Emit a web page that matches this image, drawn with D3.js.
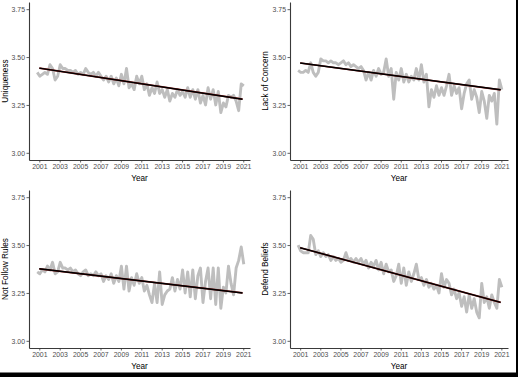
<!DOCTYPE html>
<html><head><meta charset="utf-8">
<script src="https://cdn.jsdelivr.net/npm/d3@7"></script>
<style>
html,body{margin:0;padding:0;background:#fff;}
svg{display:block;}
text{font-family:"Liberation Sans",Arial,sans-serif;}
</style></head>
<body><svg id="c" width="518" height="377"></svg>
<script>
// ---- data (quarterly readings, starting 2000.8) ----
const startYear = 2000.8;
const step = 0.25;
const panelTitles = ["Uniqueness", "Lack of Concern", "Not Follow Rules", "Defend Beliefs"];
const xTicks = [2001,2003,2005,2007,2009,2011,2013,2015,2017,2019,2021];
const yTicks = [3.00, 3.25, 3.50, 3.75];

const uniqueness = [3.42,3.40,3.41,3.42,3.41,3.46,3.44,3.38,3.40,3.46,3.44,3.44,3.43,3.43,3.42,3.43,3.41,3.42,3.41,3.44,
  3.42,3.41,3.42,3.40,3.42,3.40,3.38,3.40,3.37,3.40,3.36,3.39,3.35,3.41,3.36,3.44,3.34,3.36,3.33,3.40,
  3.36,3.40,3.33,3.36,3.30,3.34,3.31,3.37,3.31,3.33,3.29,3.33,3.27,3.31,3.29,3.33,3.30,3.32,3.29,3.34,
  3.29,3.33,3.28,3.33,3.26,3.30,3.25,3.34,3.28,3.33,3.25,3.32,3.21,3.26,3.24,3.30,3.29,3.30,3.27,3.22,
  3.36,3.35];
const lackOfConcern = [3.43,3.42,3.42,3.43,3.42,3.47,3.42,3.40,3.42,3.49,3.48,3.48,3.47,3.48,3.47,3.47,3.46,3.47,3.48,3.46,
  3.47,3.45,3.46,3.45,3.44,3.45,3.43,3.38,3.42,3.38,3.43,3.40,3.44,3.41,3.42,3.49,3.40,3.44,3.28,3.42,
  3.38,3.44,3.37,3.41,3.37,3.40,3.38,3.44,3.38,3.46,3.37,3.41,3.24,3.33,3.29,3.35,3.30,3.34,3.30,3.35,
  3.41,3.30,3.35,3.31,3.34,3.23,3.31,3.36,3.38,3.28,3.33,3.29,3.21,3.32,3.27,3.18,3.30,3.27,3.31,3.15,
  3.38,3.33];
const notFollowRules = [3.36,3.35,3.37,3.36,3.39,3.37,3.41,3.35,3.36,3.41,3.38,3.38,3.37,3.38,3.36,3.37,3.35,3.34,3.36,3.37,
  3.34,3.35,3.34,3.36,3.34,3.35,3.31,3.34,3.32,3.35,3.30,3.34,3.31,3.39,3.27,3.39,3.26,3.33,3.29,3.35,
  3.30,3.33,3.26,3.29,3.24,3.20,3.30,3.20,3.36,3.19,3.24,3.26,3.27,3.33,3.26,3.32,3.27,3.37,3.25,3.36,
  3.23,3.37,3.22,3.34,3.38,3.20,3.31,3.38,3.22,3.38,3.19,3.38,3.17,3.28,3.25,3.39,3.30,3.24,3.38,3.42,
  3.49,3.40];
const defendBeliefs = [3.50,3.47,3.46,3.46,3.46,3.55,3.53,3.45,3.47,3.44,3.46,3.44,3.45,3.42,3.44,3.42,3.43,3.41,3.42,3.46,
  3.42,3.43,3.41,3.43,3.41,3.43,3.40,3.42,3.38,3.41,3.39,3.42,3.37,3.41,3.35,3.40,3.36,3.37,3.31,3.34,
  3.40,3.30,3.38,3.29,3.36,3.31,3.35,3.40,3.32,3.33,3.29,3.32,3.28,3.30,3.27,3.29,3.25,3.35,3.28,3.32,
  3.30,3.24,3.27,3.22,3.25,3.18,3.23,3.15,3.24,3.17,3.22,3.15,3.12,3.30,3.20,3.23,3.17,3.24,3.20,3.17,
  3.32,3.28];

// linear trend: value at start and end
const trendYears = [2001.0, 2020.93];
const trendStart = [3.442, 3.469, 3.376, 3.486];
const trendEnd   = [3.280, 3.329, 3.250, 3.201];

const seriesList = [uniqueness, lackOfConcern, notFollowRules, defendBeliefs];

// ---- layout ----
const svg = d3.select("#c");
const panels = [
  {x0: 29,  x1: 250, y0: 2,   y1: 160},
  {x0: 290, x1: 508, y0: 2,   y1: 160},
  {x0: 29,  x1: 250, y0: 190, y1: 348},
  {x0: 290, x1: 508, y0: 190, y1: 348}
];
const xDomain = [1999.99, 2021.66];
const yDomain = [2.9625, 3.7875];

panels.forEach((p, k) => {
  const x = d3.scaleLinear().domain(xDomain).range([p.x0, p.x1]);
  const y = d3.scaleLinear().domain(yDomain).range([p.y1, p.y0]);
  const g = svg.append("g");
  const pts = seriesList[k].map((v, i) => [startYear + i * step, v]);

  g.append("path").datum(pts)
    .attr("fill", "none").attr("stroke", "#bebebe").attr("stroke-width", 2.9)
    .attr("stroke-linejoin", "round")
    .attr("d", d3.line().x(d => x(d[0])).y(d => y(d[1])));

  const tr = [[trendYears[0], trendStart[k]], [trendYears[1], trendEnd[k]]];
  g.append("path").datum(tr)
    .attr("fill", "none").attr("stroke", "#8b1a1a").attr("stroke-width", 1.7)
    .attr("d", d3.line().x(d => x(d[0])).y(d => y(d[1])));
  g.append("path").datum(tr)
    .attr("fill", "none").attr("stroke", "#000").attr("stroke-width", 1.4)
    .attr("d", d3.line().x(d => x(d[0])).y(d => y(d[1])));

  const ya = g.append("g").attr("transform", `translate(${p.x0},0)`)
    .call(d3.axisLeft(y).tickValues(yTicks).tickFormat(d3.format(".2f")).tickSize(2.5).tickSizeOuter(0).tickPadding(1.5));
  const xa = g.append("g").attr("transform", `translate(0,${p.y1})`)
    .call(d3.axisBottom(x).tickValues(xTicks).tickFormat(d3.format("d")).tickSize(2.5).tickSizeOuter(0).tickPadding(1.5));
  [ya, xa].forEach(a => {
    a.select(".domain").attr("stroke", "#3a3a3a").attr("stroke-width", 1.1);
    a.selectAll(".tick line").attr("stroke", "#3a3a3a").attr("stroke-width", 0.8);
    a.selectAll(".tick text").attr("fill", "#4d4d4d").style("font-size", "6.9px")
      .style("font-family", "'Liberation Sans',Arial,sans-serif");
  });

  g.append("text").attr("x", (p.x0 + p.x1) / 2).attr("y", p.y1 + 20.5)
    .attr("text-anchor", "middle").style("font-size", "8.2px").attr("fill", "#000").text("Year");
  const lx = (k % 2 === 0) ? 8 : 268;
  g.append("text").attr("transform", `translate(${lx},${(p.y0 + p.y1) / 2}) rotate(-90)`)
    .attr("text-anchor", "middle").style("font-size", "8.2px").attr("fill", "#000").text(panelTitles[k]);
});

// dark frame edges visible in the reference
svg.append("rect").attr("x", 516).attr("y", 0).attr("width", 2).attr("height", 377).attr("fill", "#000");
svg.append("rect").attr("x", 0).attr("y", 372.5).attr("width", 518).attr("height", 4.5).attr("fill", "#000");
</script></body></html>
